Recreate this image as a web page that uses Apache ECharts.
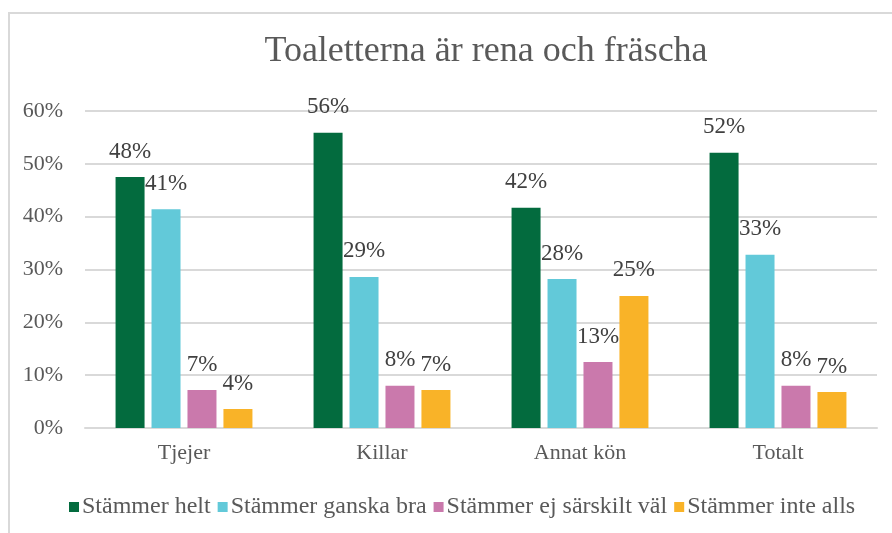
<!DOCTYPE html>
<html>
<head>
<meta charset="utf-8">
<script src="https://cdn.jsdelivr.net/npm/echarts@6/dist/echarts.min.js"></script>
<style>
  html, body { margin: 0; padding: 0; background: #fff; }
  #frame { position: absolute; left: 8px; top: 12px; width: 884px; height: 521px;
           border-left: 2px solid #d9d9d9; border-top: 2px solid #d9d9d9; }
  #main { position: absolute; left: 0; top: 0; width: 892px; height: 533px; }
</style>
</head>
<body>
<div id="frame"></div>
<div id="main"></div>
<script>
  // kategorier och serier
  var categories = ['Tjejer', 'Killar', 'Annat kön', 'Totalt'];
  var seriesNames = ['Stämmer helt', 'Stämmer ganska bra', 'Stämmer ej särskilt väl', 'Stämmer inte alls'];
  var helt = [0.475, 0.559, 0.417, 0.521];
  var gansk = [0.414, 0.286, 0.282, 0.328];
  var ejSarskilt = [0.072, 0.080, 0.125, 0.080];
  var inteAlls = [0.036, 0.072, 0.250, 0.068];
  var colors = ['#036b3e', '#62c9d9', '#ca79ac', '#f9b328'];

  var serif = '"Liberation Serif", "DejaVu Serif", serif';
  var values = [helt, gansk, ejSarskilt, inteAlls];

  var myChart = echarts.init(document.getElementById('main'));
  myChart.setOption({
    animation: false,
    title: {
      text: 'Toaletterna är rena och fräscha',
      left: 481, top: 29, textAlign: 'center',
      textStyle: { fontFamily: serif, fontSize: 36, fontWeight: 'normal', color: '#595959' }
    },
    legend: {
      data: seriesNames,
      bottom: 9, left: 64,
      itemWidth: 10, itemHeight: 10, itemGap: 7,
      icon: 'rect',
      textStyle: { fontFamily: serif, fontSize: 24, color: '#595959', padding: [0, 0, 0, -2] }
    },
    grid: { left: 85, right: 15, top: 111, bottom: 105 },
    xAxis: {
      type: 'category',
      data: categories,
      axisTick: { show: false },
      axisLine: { lineStyle: { color: '#d9d9d9', width: 2 } },
      axisLabel: { fontFamily: serif, fontSize: 22, color: '#595959', margin: 14 }
    },
    yAxis: {
      type: 'value',
      min: 0, max: 0.6, interval: 0.1,
      axisLabel: {
        fontFamily: serif, fontSize: 22, color: '#595959', margin: 22,
        formatter: function (v) { return Math.round(v * 100) + '%'; }
      },
      splitLine: { lineStyle: { color: '#d9d9d9', width: 2 } }
    },
    series: seriesNames.map(function (name, i) {
      return {
        name: name,
        type: 'bar',
        data: values[i],
        barWidth: 29,
        barGap: '24%',
        itemStyle: { color: colors[i] },
        label: {
          show: true, position: 'top', distance: 14,
          fontFamily: serif, fontSize: 23, color: '#404040',
          formatter: function (p) { return Math.round(p.value * 100) + '%'; }
        }
      };
    })
  });
</script>
</body>
</html>
